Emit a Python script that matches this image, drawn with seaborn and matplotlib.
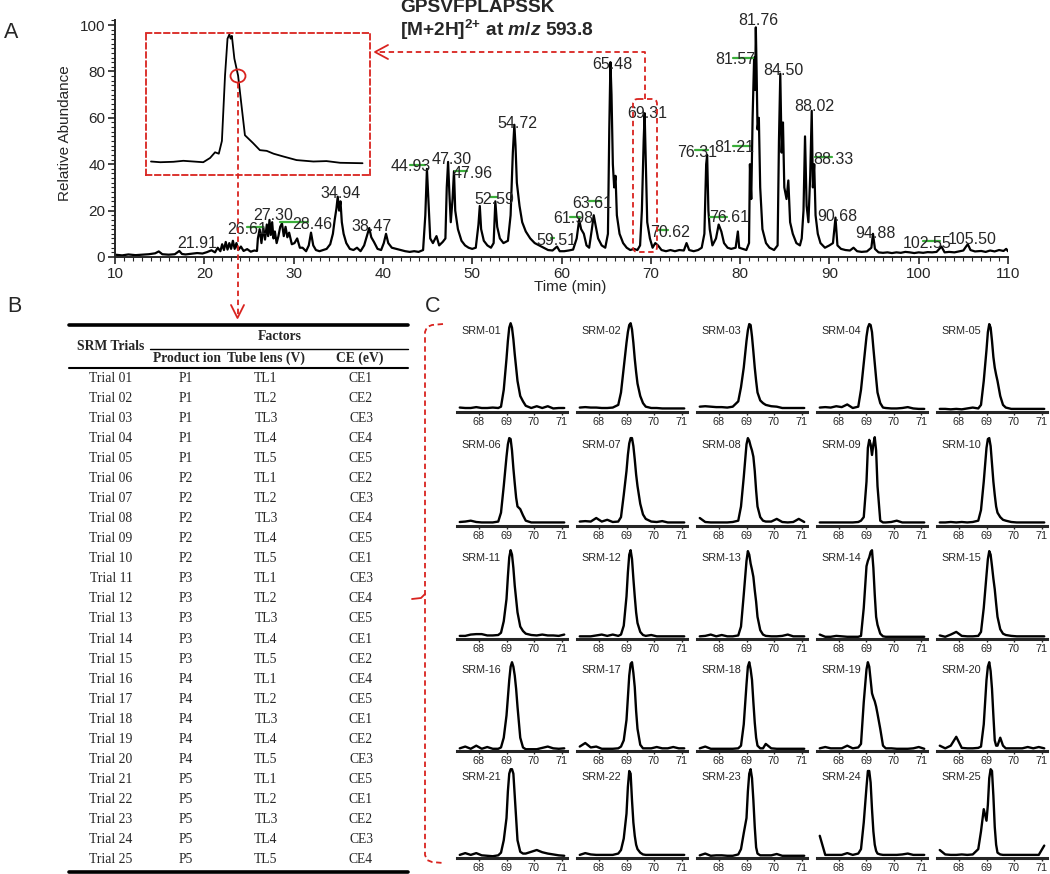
import matplotlib
matplotlib.use("Agg")
import matplotlib.pyplot as plt
from matplotlib.lines import Line2D
from matplotlib.patches import Ellipse, FancyBboxPatch
from matplotlib.ticker import MultipleLocator
from matplotlib.transforms import Affine2D
import seaborn as sns

# ---- panel A: total ion chromatogram (time in min, relative abundance) ----
tic_time = [
    10.0, 10.8, 11.5, 12.3, 13.0, 13.8, 14.5, 14.9, 15.3, 16.0,
    16.7, 17.2, 17.5, 17.9, 18.6, 19.2, 19.8, 20.3, 20.8, 21.2,
    21.5, 21.8, 22.0, 22.2, 22.4, 22.6, 22.8, 23.0, 23.2, 23.4,
    23.6, 23.8, 24.1, 24.4, 24.8, 25.2, 25.6, 25.9, 26.0, 26.2,
    26.4, 26.6, 26.8, 27.0, 27.15, 27.3, 27.45, 27.6, 27.75, 27.9,
    28.1, 28.3, 28.5, 28.7, 28.9, 29.1, 29.3, 29.5, 29.8, 30.1,
    30.4, 30.7, 31.0, 31.4, 31.7, 31.95, 32.2, 32.5, 32.9, 33.3,
    33.7, 34.1, 34.4, 34.6, 34.8, 34.94, 35.1, 35.25, 35.4, 35.6,
    35.9, 36.3, 36.7, 37.1, 37.5, 37.9, 38.2, 38.47, 38.7, 39.0,
    39.4, 39.8, 40.1, 40.35, 40.6, 41.0, 41.5, 42.0, 42.5, 43.0,
    43.5, 44.0, 44.5, 44.75, 44.93, 45.1, 45.3, 45.6, 46.0, 46.3,
    46.7, 47.0, 47.15, 47.3, 47.45, 47.6, 47.8, 47.96, 48.1, 48.4,
    48.8, 49.2, 49.6, 50.0, 50.4, 50.7, 50.85, 51.0, 51.3, 51.7,
    52.1, 52.4, 52.59, 52.8, 53.1, 53.5, 54.0, 54.3, 54.55, 54.72,
    54.85, 55.0, 55.3, 55.6, 56.0, 56.5, 57.0, 57.5, 58.0, 58.5,
    59.0, 59.5, 59.8, 60.3, 60.8, 61.3, 61.7, 61.98, 62.2, 62.5,
    62.8, 63.1, 63.4, 63.61, 63.8, 64.1, 64.5, 64.9, 65.2, 65.35,
    65.48, 65.6, 65.75, 65.9, 66.05, 66.2, 66.5, 66.9, 67.3, 67.7,
    68.1, 68.5, 68.8, 69.0, 69.2, 69.31, 69.45, 69.6, 69.9, 70.2,
    70.5, 70.8, 71.2, 71.7, 72.2, 72.7, 73.2, 73.7, 74.0, 74.3,
    74.8, 75.3, 75.7, 76.0, 76.2, 76.31, 76.45, 76.6, 76.9, 77.3,
    77.6, 77.9, 78.2, 78.6, 79.0, 79.5, 79.75, 79.9, 80.3, 80.7,
    81.0, 81.1, 81.25, 81.4, 81.57, 81.68, 81.76, 81.85, 81.95, 82.1,
    82.25, 82.5, 82.9, 83.3, 83.8, 84.2, 84.35, 84.5, 84.65, 84.8,
    84.95, 85.2, 85.4, 85.6, 85.9, 86.3, 86.7, 86.9, 87.1, 87.27,
    87.45, 87.65, 87.85, 88.02, 88.15, 88.3, 88.45, 88.7, 89.0, 89.5,
    90.0, 90.4, 90.68, 90.9, 91.3, 91.8, 92.3, 92.7, 93.1, 93.6,
    94.2, 94.7, 94.88, 95.1, 95.5, 96.0, 96.5, 97.0, 97.5, 98.0,
    98.5, 99.0, 99.5, 100.0, 100.5, 101.0, 101.5, 102.0, 102.55, 102.9,
    103.4, 104.0, 104.5, 105.0, 105.3, 105.5, 105.8, 106.3, 107.0, 107.5,
    108.0, 108.5, 109.0, 109.5, 109.8, 110.0,
]
tic_abund = [
    1.0, 0.7, 1.1, 0.8, 1.0, 1.2, 1.6, 2.4, 1.2, 1.0,
    1.2, 2.6, 1.3, 1.1, 1.4, 1.7, 1.5, 2.1, 2.9, 2.0,
    4.0, 2.5, 5.5, 3.0, 6.5, 3.2, 6.0, 3.5, 7.0, 3.5,
    6.0, 3.0, 4.5, 2.6, 3.4, 2.3, 2.8, 2.6, 8.0, 12.0,
    6.0, 13.0, 7.5, 14.0, 9.0, 16.0, 9.5, 15.0, 8.0, 11.0,
    6.0, 9.0, 13.0, 14.5, 9.0, 13.0, 8.5, 10.5, 5.5, 6.0,
    8.0, 4.0, 4.0, 2.5, 5.0, 10.5, 5.0, 3.0, 2.5, 3.0,
    3.5, 5.5, 10.0, 16.0, 21.0, 26.0, 20.0, 24.0, 15.0, 10.0,
    6.0, 3.5, 3.0, 4.0, 2.5, 5.0, 9.0, 12.5, 8.5, 6.5,
    3.5, 3.0, 6.0, 10.0, 6.0, 4.0, 3.5, 3.0, 2.5, 2.2,
    2.5, 2.2, 3.0, 18.0, 38.0, 24.0, 8.0, 6.0, 9.0, 5.0,
    6.5, 8.0, 30.0, 41.0, 27.0, 15.0, 25.0, 37.0, 20.0, 12.0,
    7.0, 5.0, 4.0, 3.5, 4.0, 14.0, 22.0, 12.0, 7.0, 5.0,
    4.0, 6.0, 24.0, 13.0, 8.0, 6.0, 7.0, 18.0, 45.0, 57.0,
    48.0, 32.0, 22.0, 15.0, 11.0, 8.0, 6.0, 5.0, 4.0, 3.0,
    2.8, 4.5, 2.5, 2.5, 2.8, 3.2, 8.0, 16.0, 12.0, 10.0,
    5.0, 4.0, 12.0, 18.0, 14.0, 8.0, 5.0, 4.0, 10.0, 55.0,
    84.0, 70.0, 40.0, 30.0, 35.0, 18.0, 10.0, 6.0, 4.0, 3.0,
    3.5, 3.0, 5.0, 20.0, 50.0, 62.0, 40.0, 15.0, 8.0, 4.0,
    6.0, 5.0, 3.0, 2.5, 3.0, 2.5, 3.0, 2.8, 6.0, 3.0,
    2.5, 3.0, 4.0, 10.0, 40.0, 44.0, 20.0, 12.0, 5.0, 8.0,
    14.0, 11.0, 6.0, 4.0, 3.5, 4.0, 11.0, 4.0, 3.5, 3.0,
    6.0, 40.0, 25.0, 60.0, 86.0, 72.0, 99.0, 80.0, 55.0, 60.0,
    30.0, 12.0, 6.0, 4.0, 3.0, 5.0, 50.0, 79.0, 45.0, 58.0,
    30.0, 25.0, 33.0, 15.0, 10.0, 6.0, 5.0, 8.0, 20.0, 52.0,
    22.0, 15.0, 35.0, 63.0, 30.0, 40.0, 18.0, 10.0, 6.0, 4.0,
    5.0, 6.0, 17.0, 5.0, 3.5, 3.0, 2.8, 4.0, 2.5, 2.2,
    2.4, 4.0, 10.0, 3.5, 2.0, 1.8, 2.0, 1.7, 2.0, 1.8,
    2.2, 2.0, 1.7, 2.0, 1.8, 2.1, 2.0, 2.2, 4.5, 2.0,
    2.2, 2.0, 2.4, 2.8, 4.5, 5.5, 3.0, 2.4, 2.6, 2.2,
    2.8, 2.4, 3.0, 2.6, 3.5, 2.5,
]

# labelled retention times
peak_rt = [21.91, 26.61, 27.30, 28.46, 34.94, 38.47, 44.93, 47.30, 47.96, 52.59,
           54.72, 59.51, 61.98, 63.61, 65.48, 69.31, 70.62, 76.31, 76.61, 81.21,
           81.57, 81.76, 84.50, 88.02, 88.33, 90.68, 94.88, 102.55, 105.50]

# extracted ion chromatogram of the target peptide (inset)
xic_time = [68.08, 68.23, 68.44, 68.60, 68.76, 68.92, 69.03, 69.11, 69.17, 69.22,
            69.27, 69.31, 69.34, 69.36, 69.38, 69.42, 69.48, 69.54, 69.59, 69.72,
            69.83, 69.94, 70.05, 70.21, 70.42, 70.69, 70.90, 71.12, 71.48]
xic_abund = [9.5, 9.0, 9.3, 10.0, 9.5, 9.0, 12.0, 16.0, 15.0, 24.0,
             70.0, 96.0, 99.0, 96.0, 98.0, 82.0, 70.0, 47.0, 28.0, 22.5,
             17.5, 17.0, 15.0, 13.0, 10.5, 9.5, 9.8, 8.6, 8.3]

# ---- panel B: SRM trial design ----
trials = ["Trial 01", "Trial 02", "Trial 03", "Trial 04", "Trial 05",
          "Trial 06", "Trial 07", "Trial 08", "Trial 09", "Trial 10",
          "Trial 11", "Trial 12", "Trial 13", "Trial 14", "Trial 15",
          "Trial 16", "Trial 17", "Trial 18", "Trial 19", "Trial 20",
          "Trial 21", "Trial 22", "Trial 23", "Trial 24", "Trial 25"]
product_ion = ["P1", "P1", "P1", "P1", "P1", "P2", "P2", "P2", "P2", "P2",
               "P3", "P3", "P3", "P3", "P3", "P4", "P4", "P4", "P4", "P4",
               "P5", "P5", "P5", "P5", "P5"]
tube_lens = ["TL1", "TL2", "TL3", "TL4", "TL5", "TL1", "TL2", "TL3", "TL4", "TL5",
             "TL1", "TL2", "TL3", "TL4", "TL5", "TL1", "TL2", "TL3", "TL4", "TL5",
             "TL1", "TL2", "TL3", "TL4", "TL5"]
coll_energy = ["CE1", "CE2", "CE3", "CE4", "CE5", "CE2", "CE3", "CE4", "CE5", "CE1",
               "CE3", "CE4", "CE5", "CE1", "CE2", "CE4", "CE5", "CE1", "CE2", "CE3",
               "CE5", "CE1", "CE2", "CE3", "CE4"]

# ---- panel C: SRM traces ----
srm_time = [67.3, 67.5, 67.7, 67.9, 68.1, 68.3, 68.5, 68.7, 68.8, 68.9,
            69.0, 69.05, 69.1, 69.15, 69.2, 69.25, 69.3, 69.35, 69.4, 69.5,
            69.6, 69.7, 69.9, 70.1, 70.3, 70.5, 70.7, 70.9, 71.1]
srm_names = ["SRM-%02d" % (i + 1) for i in range(25)]
srm_traces = [
    [5, 4.5, 4.5, 5.5, 4.5, 4.5, 5, 4.5, 6, 25, 60, 80, 95, 100, 95, 82, 65, 50, 35, 18, 12, 7, 4.5, 6.5, 4.5, 6.5, 4, 4.5, 4.5],
    [5, 5.5, 5, 5, 4.5, 4.5, 5, 8, 22, 50, 78, 90, 98, 100, 93, 78, 60, 45, 32, 18, 10, 6, 4.5, 4.5, 4, 4, 4, 4, 4],
    [6, 6.5, 6, 5.5, 5.5, 5, 6, 12, 28, 50, 80, 92, 99, 98, 85, 68, 50, 35, 22, 13, 10, 8, 6.5, 6, 4.5, 4.5, 4.5, 4.5, 4.5],
    [5, 5.5, 5, 6.5, 5.5, 8.5, 4.5, 6, 25, 55, 85, 95, 99, 98, 90, 72, 55, 38, 22, 10, 5, 4.5, 4, 4, 4.5, 5.5, 4, 3.5, 3.5],
    [3.5, 3.5, 3, 3.5, 3, 4, 5, 4, 8, 35, 70, 90, 99, 95, 80, 62, 50, 42, 35, 18, 8, 5, 3.5, 3.5, 3.5, 3.5, 3.5, 3.5, 3.5],
    [4.5, 5, 6, 4.5, 4, 4, 4, 5, 15, 45, 78, 92, 99, 98, 85, 65, 48, 32, 22, 19, 12, 6, 4, 4, 4, 4, 4, 4, 4],
    [5, 5.5, 5, 9, 5, 7, 4.5, 5, 10, 35, 62, 80, 93, 99, 99, 90, 75, 58, 45, 25, 13, 8, 5, 4.5, 5.5, 4, 4, 4, 4],
    [9, 4.5, 4, 4, 4, 4, 4.5, 6, 22, 55, 92, 99, 96, 90, 85, 78, 62, 40, 22, 10, 6, 5, 5, 8, 4.5, 4, 4.5, 8, 4.5],
    [4, 4, 4, 4, 4, 4, 4, 4.5, 6, 10, 50, 88, 97, 92, 80, 92, 100, 85, 45, 6, 4, 4, 4.5, 6, 4, 4, 4, 4, 4],
    [4, 4, 4.5, 4, 4.5, 4, 4.5, 6, 18, 50, 88, 98, 99, 90, 70, 50, 35, 22, 15, 10, 7, 6, 4.5, 4, 4, 4, 4, 4, 4],
    [3.5, 3.5, 5, 5.5, 5.5, 4, 4, 4.5, 7, 20, 45, 70, 92, 100, 95, 80, 60, 45, 30, 14, 9, 6, 4.5, 4, 5, 4, 4, 3.5, 5],
    [3, 3, 3, 4, 5, 3.5, 5, 3.5, 5, 15, 48, 75, 95, 100, 90, 68, 48, 30, 18, 8, 4.5, 3.5, 4.5, 3, 3, 3, 3, 3, 3],
    [3, 3.5, 5, 3, 4.5, 3, 3, 4, 14, 50, 88, 99, 95, 85, 78, 70, 55, 42, 25, 10, 5, 3.5, 3, 3, 3.5, 5, 3, 3, 3],
    [5, 2.5, 2.5, 3.5, 3, 2.5, 2.5, 2.5, 3.5, 35, 82, 88, 92, 98, 100, 80, 50, 25, 16, 6, 3, 2.5, 2.5, 2.5, 2.5, 2.5, 2.5, 2.5, 2.5],
    [4, 2.5, 5, 8, 3.5, 3, 3, 3.5, 8, 35, 72, 90, 99, 95, 82, 68, 56, 40, 25, 11, 6, 4.5, 3.5, 3, 3, 3, 3, 3, 3],
    [3, 5, 2.5, 6, 2.5, 4.5, 2.5, 2.5, 4, 15, 40, 60, 80, 95, 100, 95, 85, 70, 50, 15, 4, 2, 2, 2, 3.5, 5, 3, 2.5, 3],
    [5, 9, 4, 5, 2.5, 2.5, 2.5, 3, 5, 12, 35, 60, 85, 98, 100, 88, 72, 45, 25, 7, 3, 3, 3, 4.5, 3, 3, 4.5, 3, 3],
    [3, 5, 2.5, 2.5, 2.5, 2.5, 2.5, 3, 6, 30, 75, 95, 100, 92, 80, 55, 32, 15, 6, 3, 3, 8, 3, 2.5, 2.5, 2.5, 2.5, 2.5, 2.5],
    [3, 4.5, 3, 3, 3, 6, 3, 4, 8, 55, 92, 100, 95, 80, 65, 60, 56, 50, 42, 25, 6, 3, 3, 2.5, 2.5, 2.5, 3, 4.5, 2.5],
    [6, 3, 6, 16, 3.5, 3, 3, 3.5, 5, 30, 80, 95, 100, 90, 70, 40, 12, 6, 6, 15, 6, 3, 3, 3, 3, 4.5, 3, 4.5, 3],
    [3.5, 5.5, 3.5, 5.5, 3, 2.5, 2, 3, 6, 20, 45, 75, 95, 100, 100, 95, 70, 45, 20, 7, 5, 5, 7, 9, 6.5, 5, 4, 3, 2.5],
    [3.5, 5.5, 4, 3.5, 3.5, 3.5, 3.5, 5, 9, 22, 50, 80, 98, 95, 65, 40, 25, 15, 10, 6, 4, 3.5, 3.5, 3.5, 3.5, 3.5, 3.5, 3.5, 3.5],
    [3, 5, 2.5, 3, 3, 2.5, 2.5, 4, 10, 28, 45, 75, 95, 100, 90, 65, 35, 12, 5, 3, 3, 3, 3, 4.5, 2.5, 2.5, 2.5, 2.5, 2.5],
    [25, 3.5, 3.5, 3.5, 3.5, 5.5, 3.5, 5, 10, 40, 80, 98, 98, 85, 55, 30, 15, 8, 5, 4, 3.5, 3.5, 3.5, 3.5, 4, 5, 3.5, 3.5, 3.5],
    [9, 4, 3.5, 3.5, 4, 3.5, 4, 10, 30, 55, 42, 60, 90, 100, 98, 70, 35, 15, 6, 4, 3.5, 3.5, 3.5, 3.5, 3.5, 3.5, 3.5, 3.5, 14],
]

# ---- style ----
sns.set_style("ticks")
plt.rcParams["font.family"] = ["Liberation Sans", "DejaVu Sans"]
plt.rcParams["mathtext.fontset"] = "custom"
plt.rcParams["mathtext.rm"] = "Liberation Sans:bold"
plt.rcParams["mathtext.bf"] = "Liberation Sans:bold"
plt.rcParams["mathtext.it"] = "Liberation Sans:italic:bold"
RED = "#d9231f"
GREEN = "#3aae3a"
DASH = (0, (3, 2))
W, H = 1050, 874

fig = plt.figure(figsize=(W / 100, H / 100), dpi=100)
# pixel coordinates, origin top-left
PX = Affine2D().scale(0.01, -0.01).translate(0, H / 100) + fig.dpi_scale_trans


def box(x0, y0, x1, y1):
    return [x0 / W, 1 - y1 / H, (x1 - x0) / W, (y1 - y0) / H]


def pline(xs, ys, **kw):
    fig.add_artist(Line2D(xs, ys, transform=PX, **kw))


# ---- A ----
ax = fig.add_axes(box(115, 20.4, 1008, 257))
sns.lineplot(x=tic_time, y=tic_abund, ax=ax, color="black", lw=1.6)
ax.set_xlim(10, 110)
ax.set_ylim(0, 102)
ax.set_xticks(range(10, 111, 10))
ax.set_yticks(range(0, 101, 20))
ax.xaxis.set_minor_locator(MultipleLocator(1))
ax.yaxis.set_minor_locator(MultipleLocator(2))
sns.despine(ax=ax)
for s in ("left", "bottom"):
    ax.spines[s].set_linewidth(1.4)
ax.tick_params(which="major", length=5, width=1.2, labelsize=11, pad=2)
ax.tick_params(which="minor", length=3, width=0.8)
ax.set_xlabel("Time (min)", fontsize=11)
ax.set_ylabel("Relative Abundance", fontsize=11)
ax.xaxis.set_label_coords(0.51, -0.098)
ax.yaxis.set_label_coords(-0.048, 0.524)

label_xy = [(19.2, 6), (24.8, 12), (27.7, 18), (32.1, 14), (35.3, 27.5), (38.7, 13),
            (43.1, 39), (47.7, 42), (50.1, 36), (52.5, 24.6), (55.1, 57.5), (59.4, 7.3),
            (61.3, 16.5), (63.4, 23), (65.7, 83), (69.6, 62), (72.2, 10.5), (75.2, 45),
            (78.8, 17), (79.3, 47), (79.5, 85), (82.0, 102), (84.8, 80.6), (88.3, 65),
            (90.5, 42), (90.9, 17.3), (95.1, 10.3), (100.9, 6), (106.0, 7.7)]
for rt, (lx, ly) in zip(peak_rt, label_xy):
    ax.text(lx, ly, "%.2f" % rt, ha="center", va="center", fontsize=11.5, clip_on=False)

label_dash = [(24.8, 26.6, 13), (28.5, 31.6, 15), (43.0, 44.7, 39.5), (48.1, 49.4, 37),
              (52.0, 52.8, 26), (58.8, 59.2, 8), (61.0, 62.1, 17.2), (63.1, 64.4, 24),
              (70.7, 71.9, 11.6), (75.0, 76.4, 46), (76.6, 78.5, 17.4), (79.2, 81.1, 48),
              (79.2, 81.4, 86), (88.4, 90.3, 43), (100.5, 102.4, 7)]
for x0, x1, y in label_dash:
    ax.plot([x0, x1], [y, y], color=GREEN, lw=1.6)

# inset
axi = fig.add_axes(box(146, 33, 370, 175))
sns.lineplot(x=xic_time, y=xic_abund, ax=axi, color="black", lw=1.3)
axi.set_xlim(68.0, 71.6)
axi.set_ylim(0, 100)
axi.set_xticks([])
axi.set_yticks([])
axi.set_xlabel("")
axi.set_ylabel("")
axi.patch.set_alpha(0)
for s in axi.spines.values():
    s.set_visible(True)
    s.set_color(RED)
    s.set_linestyle(DASH)
    s.set_linewidth(1.3)

fig.add_artist(Ellipse((238, 76), 15, 13, transform=PX, fill=False, ec=RED, lw=1.3))
pline([237.5, 237.5], [83, 316], color=RED, ls=DASH, lw=1.3)
pline([231, 237.5, 244], [305, 318, 305], color=RED, lw=1.3)

fig.add_artist(FancyBboxPatch((633, 99), 24, 153, boxstyle="round,pad=0,rounding_size=5",
                              transform=PX, fill=False, ec=RED, ls=DASH, lw=1.3))
pline([645, 645, 378], [99, 52, 52], color=RED, ls=DASH, lw=1.3)
pline([388, 375, 388], [45, 52, 59], color=RED, lw=1.3)

fig.text(400, 8, "GPSVFPLAPSSK", transform=PX, fontsize=13.8, fontweight="bold", va="center")
fig.text(400, 30, r"[M+2H]$^{2{+}}$ at $\mathit{m/z}$ 593.8", transform=PX, fontsize=13.8,
         fontweight="bold", va="center")

# panel letters
fig.text(11, 32, "A", transform=PX, fontsize=15.5, ha="center", va="center")
fig.text(14, 307, "B", transform=PX, fontsize=15.5, ha="center", va="center")
fig.text(433, 306, "C", transform=PX, fontsize=15.5, ha="center", va="center")

# ---- B: table ----
serif = ["Liberation Serif", "DejaVu Serif"]
pline([69, 408], [325, 325], color="black", lw=2.6)
pline([150, 408], [349, 349], color="black", lw=1.0)
pline([69, 408], [368, 368], color="black", lw=1.5)
pline([69, 408], [872, 872], color="black", lw=2.6)
hdr = dict(transform=PX, fontsize=9.8, fontweight="bold", family=serif, ha="center", va="center")
fig.text(111, 347, "SRM Trials", **hdr)
fig.text(280, 336, "Factors", **hdr)
fig.text(187, 358, "Product ion", **hdr)
fig.text(266, 358, "Tube lens (V)", **hdr)
fig.text(360, 358, "CE (eV)", **hdr)
cell = dict(transform=PX, fontsize=9.8, family=serif, ha="center", va="center")
for i in range(len(trials)):
    y = 378 + i * 20.08
    fig.text(111, y, trials[i], **cell)
    fig.text(186, y, product_ion[i], **cell)
    fig.text(266, y, tube_lens[i], **cell)
    fig.text(361, y, coll_energy[i], **cell)

# ---- C: SRM grid ----
row_base = [412, 526, 639, 751, 858]
for i, trace in enumerate(srm_traces):
    r, c = divmod(i, 5)
    left = 457 + 120 * c
    a = fig.add_axes(box(left, row_base[r] - 95, left + 110, row_base[r]))
    sns.lineplot(x=srm_time, y=trace, ax=a, color="black", lw=1.7)
    a.set_xlim(67.2, 71.2)
    a.set_ylim(0, 107)
    a.set_xticks([68, 69, 70, 71])
    a.set_yticks([])
    a.set_xlabel("")
    a.set_ylabel("")
    a.patch.set_alpha(0)
    for s in ("left", "top", "right"):
        a.spines[s].set_visible(False)
    a.spines["bottom"].set_linewidth(2.2)
    a.tick_params(axis="x", length=2.5, width=1, labelsize=7.8, pad=1)
    a.text(0.045, 0.85, srm_names[i], transform=a.transAxes, fontsize=7.8, va="center")

# bracket linking the table to the SRM traces
pline([443, 432, 427, 425, 425, 427, 432, 443], [324, 325, 327, 332, 855, 860, 862, 863],
      color=RED, ls=DASH, lw=1.3)
pline([425, 421, 412], [594, 598, 599], color=RED, lw=1.3)

fig.savefig("out.png", dpi=100)
